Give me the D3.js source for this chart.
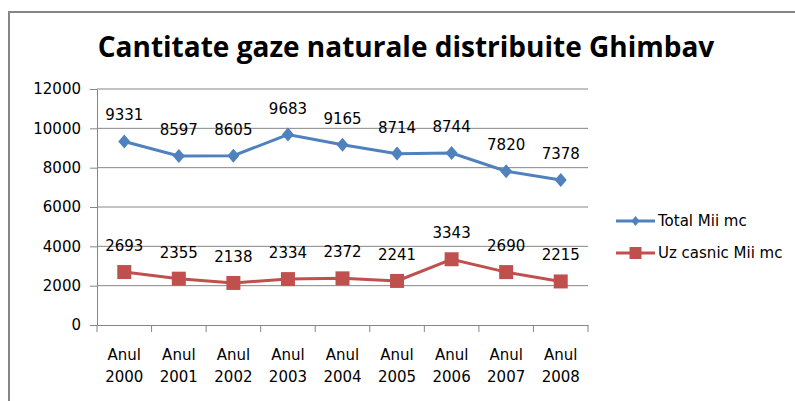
<!DOCTYPE html>
<html>
  <head>
    <meta charset="utf-8">
    <title>Cantitate gaze naturale distribuite Ghimbav</title>
    <script src="https://d3js.org/d3.v7.min.js"></script>
    <style>
      body { margin: 0; background: #fff; }
      svg text { font-family: "DejaVu Sans", sans-serif; fill: #000; }
      svg text.title { font-family: "Open Sans", sans-serif; }
    </style>
  </head>
  <body>
    <svg id="chart" width="795" height="401"></svg>
    <script>
      // chart data
      var years = ["Anul 2000", "Anul 2001", "Anul 2002", "Anul 2003", "Anul 2004",
                   "Anul 2005", "Anul 2006", "Anul 2007", "Anul 2008"];
      var total = [9331, 8597, 8605, 9683, 9165, 8714, 8744, 7820, 7378];
      var casnic = [2693, 2355, 2138, 2334, 2372, 2241, 3343, 2690, 2215];
      var yTicks = [0, 2000, 4000, 6000, 8000, 10000, 12000];
      var seriesNames = ["Total Mii mc", "Uz casnic Mii mc"];

      var svg = d3.select("#chart");
      var margin = { top: 89, right: 207, bottom: 76, left: 97 };
      var width = 795 - margin.left - margin.right;
      var height = 401 - margin.top - margin.bottom;

      // outer chart border (right and bottom lie outside the picture)
      svg.append("path")
        .attr("d", "M9,401V12H795")
        .attr("fill", "none")
        .attr("stroke", "#868686")
        .attr("stroke-width", 2);

      svg.append("text")
        .attr("class", "title")
        .attr("x", 406)
        .attr("y", 57)
        .attr("text-anchor", "middle")
        .style("font-size", "28px")
        .style("font-weight", "bold")
        .text("Cantitate gaze naturale distribuite Ghimbav");

      var g = svg.append("g")
        .attr("transform", "translate(" + margin.left + "," + margin.top + ")");

      var x = d3.scaleBand()
        .domain(years)
        .range([0, width]);
      var y = d3.scaleLinear()
        .domain([0, 12000])
        .range([height, 0]);

      // gridlines
      g.selectAll(".grid")
        .data(yTicks.slice(1))
        .enter().append("line")
          .attr("x1", 0)
          .attr("x2", width)
          .attr("y1", function(d) { return y(d); })
          .attr("y2", function(d) { return y(d); })
          .attr("stroke", "#868686")
          .attr("stroke-width", 1);

      // y axis
      var yAxis = g.append("g")
        .call(d3.axisLeft(y).tickValues(yTicks).tickFormat(d3.format("d"))
          .tickSize(7).tickSizeOuter(0).tickPadding(9));
      // x axis
      var xAxis = g.append("g")
        .attr("transform", "translate(0," + height + ")")
        .call(d3.axisBottom(x).tickSize(0).tickFormat(""));
      var edges = d3.range(years.length + 1).map(function(i) { return i * x.step(); });
      xAxis.selectAll(".edge")
        .data(edges)
        .enter().append("line")
          .attr("x1", function(d) { return d; })
          .attr("x2", function(d) { return d; })
          .attr("y1", 0)
          .attr("y2", 7)
          .attr("stroke", "#868686");
      g.selectAll(".domain, .tick line").attr("stroke", "#868686");
      yAxis.selectAll("text").style("font-size", "15px").style("font-family", "DejaVu Sans");

      var labels = g.selectAll(".xlabel")
        .data(years)
        .enter().append("text")
          .attr("text-anchor", "middle")
          .style("font-size", "15px")
          .attr("transform", function(d) { return "translate(" + (x(d) + x.bandwidth() / 2) + "," + (height + 35) + ")"; });
      labels.append("tspan").attr("x", 0).attr("y", 0).text(function(d) { return d.split(" ")[0]; });
      labels.append("tspan").attr("x", 0).attr("y", 22).text(function(d) { return d.split(" ")[1]; });

      var cx = function(d, i) { return x(years[i]) + x.bandwidth() / 2; };
      var line = d3.line()
        .x(cx)
        .y(function(d) { return y(d); });
      var colours = ["#4F81BD", "#C0504D"];
      var series = [total, casnic];

      series.forEach(function(values, s) {
        g.append("path")
          .datum(values)
          .attr("d", line)
          .attr("fill", "none")
          .attr("stroke", colours[s])
          .attr("stroke-width", 3);
        var marks = g.selectAll(".mark" + s)
          .data(values)
          .enter().append("path")
            .attr("transform", function(d, i) { return "translate(" + cx(d, i) + "," + y(d) + ")"; })
            .attr("fill", colours[s]);
        if (s == 0) marks.attr("d", "M0,-7L6,0L0,7L-6,0Z");
        else marks.attr("d", "M-7,-7H7V7H-7Z");
        g.selectAll(".val" + s)
          .data(values)
          .enter().append("text")
            .attr("x", cx)
            .attr("y", function(d) { return y(d) - 21; })
            .attr("text-anchor", "middle")
            .style("font-size", "15px")
            .text(function(d) { return d; });
      });

      // legend
      var legend = svg.append("g")
        .attr("transform", "translate(616,221)");
      seriesNames.forEach(function(name, s) {
        var item = legend.append("g").attr("transform", "translate(0," + (s * 32) + ")");
        item.append("line")
          .attr("x1", 0).attr("x2", 39)
          .attr("stroke", colours[s]).attr("stroke-width", 3);
        item.append("path")
          .attr("transform", "translate(19.5,0)")
          .attr("fill", colours[s])
          .attr("d", s == 0 ? "M0,-5L4,0L0,5L-4,0Z" : "M-6,-6H6V6H-6Z");
        item.append("text")
          .attr("x", 42)
          .attr("y", 5)
          .style("font-size", "15px")
          .text(name);
      });
    </script>
  </body>
</html>
